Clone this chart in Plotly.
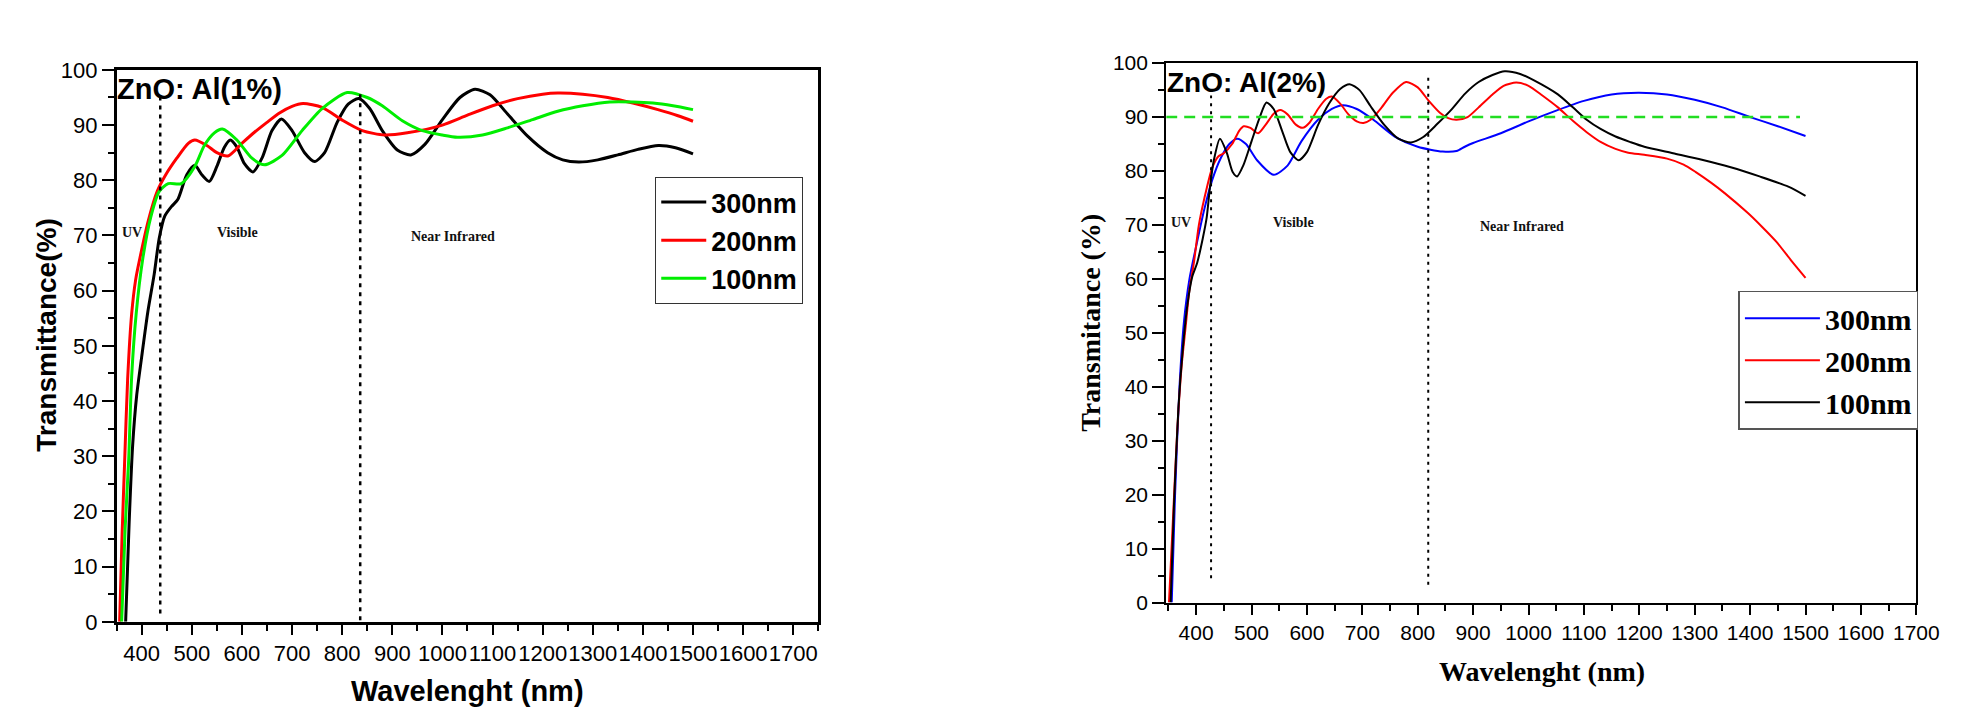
import plotly.graph_objects as go

W, H = 1966, 712

# ---------------- Left panel: ZnO:Al(1%) ----------------
l_300_x = [368, 375, 382, 390, 400, 412, 425, 435, 446, 460, 472, 490, 506, 520, 535, 550, 565, 577, 590, 605, 622,
           640, 660, 679, 700, 725, 745, 765, 790, 812, 833, 855, 880, 910, 937, 965, 1000, 1035, 1065, 1095, 1130,
           1170, 1210, 1240, 1272, 1310, 1350, 1390, 1431, 1465, 1500]
l_300_y = [0, 18, 32, 41, 48, 56, 63, 69.5, 73.5, 75.3, 76.5, 81, 82.7, 81, 79.8, 82.5, 86, 87.3, 86, 83, 81.5,
           84, 89, 91.1, 89, 85, 83.4, 85, 90.5, 93.8, 94.8, 93, 89, 85.5, 84.6, 86.5, 91, 95, 96.5, 95.5, 92,
           88, 85, 83.7, 83.3, 83.7, 84.6, 85.6, 86.3, 85.9, 84.8]

l_200_x = [356, 361, 366, 372, 380, 388, 396, 413, 431, 448, 470, 493, 506, 530, 550, 572, 600, 625, 650, 675, 700,
           722, 760, 800, 840, 885, 930, 1000, 1050, 1100, 1150, 1200, 1230, 1280, 1330, 1380, 1430, 1470, 1500]
l_200_y = [0, 16, 29, 44, 55.8, 62, 65.7, 72.6, 78, 81, 84, 86.7, 87.3, 86.3, 85, 84.4, 86.7, 88.7, 90.5, 92.2, 93.4,
           93.9, 93.2, 90.9, 89, 88.2, 88.6, 90, 91.8, 93.5, 94.8, 95.6, 95.8, 95.6, 95, 94, 92.8, 91.7, 90.7]

l_100_x = [360, 367, 374, 380, 389, 402, 418, 435, 453, 479, 506, 525, 545, 561, 590, 620, 645, 680, 720, 760, 810,
           850, 880, 920, 960, 1000, 1030, 1080, 1130, 1180, 1230, 1280, 1334, 1380, 1420, 1460, 1500]
l_100_y = [0, 17, 29.2, 44.4, 55.8, 65.7, 73.3, 78, 79.4, 79.4, 82.5, 86.3, 88.6, 89.3, 87.3, 84, 82.8, 84.5, 89, 93,
           95.9, 95, 93.5, 90.8, 89, 88.2, 87.8, 88.2, 89.5, 91, 92.5, 93.5, 94.2, 94.2, 94, 93.5, 92.8]

l_bounds = [437, 836]            # UV|Visible and Visible|NIR borders (nm)
l_bound_top = [95.4, 95.8]
l_bound_bottom = [1.5, 0.3]

# ---------------- Right panel: ZnO:Al(2%) ----------------
r_300_x = [356, 362, 370, 378, 388, 400, 415, 429, 445, 460, 474, 490, 510, 540, 565, 590, 620, 645, 665, 690, 720,
           760, 800, 845, 870, 885, 900, 950, 1000, 1050, 1100, 1150, 1198, 1250, 1300, 1350, 1400, 1450, 1500]
r_300_y = [0, 20, 40, 52, 60, 66, 73, 78.3, 82.5, 85, 86, 85, 82, 79.3, 81, 85.5, 89.5, 91.5, 92.2, 91.5, 89.5,
           86.3, 84.5, 83.6, 83.7, 84.5, 85.2, 87, 89.2, 91.2, 93, 94.2, 94.5, 94.2, 93.2, 91.8, 90, 88.3, 86.5]

r_200_x = [351, 358, 366, 374, 381, 388, 396, 405, 415, 429, 440, 450, 465, 478, 486, 498, 512, 525, 540, 552, 565,
           580, 592, 605, 620, 635, 645, 660, 675, 690, 702, 715, 735, 755, 779, 800, 820, 840, 855, 870, 890, 910,
           935, 955, 978, 1000, 1025, 1053, 1080, 1105, 1130, 1157, 1180, 1209, 1250, 1280, 1302, 1330, 1354, 1396,
           1420, 1448, 1475, 1500]
r_200_y = [0, 15, 32, 44, 51, 58, 63, 70, 75, 80.6, 82.7, 83.3, 85, 87.5, 88.3, 88, 87, 88.5, 90.6, 91.3, 90.5,
           88.6, 88, 89, 91.5, 93.4, 93.8, 92.5, 90.5, 89.2, 88.9, 89.5, 91.8, 94.5, 96.5, 95.5, 93, 90.8, 89.8, 89.5,
           90, 91.8, 94.2, 95.8, 96.4, 95.8, 94, 91.8, 89.3, 87.2, 85.4, 84.1, 83.4, 83, 82.3, 81.2, 79.8, 77.8,
           75.9, 72.2, 69.8, 66.8, 63.3, 60.2]

r_100_x = [354, 360, 368, 376, 384, 393, 402, 412, 419, 425, 432, 443, 455, 466, 474, 485, 500, 515, 527, 540, 555,
           570, 585, 600, 620, 640, 660, 677, 695, 715, 740, 765, 788, 810, 835, 860, 886, 910, 935, 957, 985, 1010,
           1053, 1080, 1105, 1130, 1157, 1183, 1209, 1261, 1313, 1365, 1417, 1469, 1500]
r_100_y = [0, 18, 36, 47, 55, 60.4, 63, 67.5, 71.3, 77, 82, 86, 83.5, 79.8, 79, 81, 85.5, 90, 92.7, 91.5, 87.5,
           83.5, 82, 83.5, 88.5, 92.5, 95.2, 96.1, 95, 92, 88.5, 86, 85.3, 86.3, 88.7, 91.3, 94.4, 96.5, 97.8, 98.5,
           98, 96.8, 94.2, 91.8, 89.5, 87.8, 86.4, 85.4, 84.5, 83.3, 82.1, 80.7, 79, 77.1, 75.4]

r_bounds = [427, 819]
r_bound_top = [94, 98]
r_bound_bottom = [4.5, 3.3]
r_ref_level = 90
r_ref_span = [346, 1490]

region_labels = ["UV", "Visible", "Near Infrared"]
l_label_x = [381, 591, 1021]
l_label_y = [70.6, 70.6, 69.9]
r_label_x = [373, 575, 989]
r_label_y = [70.5, 70.5, 69.8]

tick_vals = list(range(400, 1800, 100))
legend_names = ["300nm", "200nm", "100nm"]

# ---------------- geometry (pixels) ----------------
def px(x):
    return x / W

def py(y):
    return 1 - y / H

L = dict(x0=118, x1=828, y0=60, y1=632)
R = dict(x0=1180, x1=1939, y0=53, y1=612)

fig = go.Figure()

SANS = "Liberation Sans, Arial, sans-serif"
SERIF = "Liberation Serif, Times New Roman, serif"

left_cols = ["#000000", "#ff0000", "#00ee00"]
for xs, ys, nm, c in zip([l_300_x, l_200_x, l_100_x], [l_300_y, l_200_y, l_100_y], legend_names, left_cols):
    fig.add_trace(go.Scatter(x=xs, y=ys, mode="lines", name=nm,
                             line=dict(color=c, width=3, shape="spline", smoothing=0.7),
                             xaxis="x", yaxis="y", legend="legend"))

right_cols = ["#0000ff", "#ff0000", "#000000"]
for xs, ys, nm, c in zip([r_300_x, r_200_x, r_100_x], [r_300_y, r_200_y, r_100_y], legend_names, right_cols):
    fig.add_trace(go.Scatter(x=xs, y=ys, mode="lines", name=nm,
                             line=dict(color=c, width=2, shape="spline", smoothing=0.7),
                             xaxis="x2", yaxis="y2", legend="legend2"))

def xax(dom, rng, lw, fs):
    return dict(domain=dom, range=rng, tickmode="array", tickvals=tick_vals, ticks="outside", ticklen=10,
                tickwidth=2, tickcolor="black", showline=True, linewidth=lw, linecolor="black", mirror=True,
                showgrid=False, zeroline=False, tickangle=0,
                tickfont=dict(family=SANS, size=fs, color="black"),
                minor=dict(dtick=50, tick0=350, ticks="outside", ticklen=6, tickwidth=2, tickcolor="black",
                           showgrid=False))

def yax(dom, lw, fs):
    return dict(domain=dom, range=[0, 100], dtick=10, ticks="outside", ticklen=12, tickwidth=2,
                tickcolor="black", showline=True, linewidth=lw, linecolor="black", mirror=True,
                showgrid=False, zeroline=False, tickfont=dict(family=SANS, size=fs, color="black"),
                minor=dict(dtick=5, ticks="outside", ticklen=6, tickwidth=2, tickcolor="black", showgrid=False))

fig.update_layout(
    width=W, height=H, margin=dict(l=0, r=0, t=0, b=0), paper_bgcolor="white", plot_bgcolor="white",
    xaxis=dict(**xax([px(L["x0"]), px(L["x1"])], [350, 1750], 2.5, 22), anchor="y"),
    yaxis=dict(**yax([py(L["y1"]), py(L["y0"])], 2.5, 22), anchor="x"),
    xaxis2=dict(**xax([px(R["x0"]), px(R["x1"])], [346, 1700], 2, 21), anchor="y2"),
    yaxis2=dict(**yax([py(R["y1"]), py(R["y0"])], 2, 21), anchor="x2"),
    legend=dict(x=px(663), y=py(171), xanchor="left", yanchor="top", bgcolor="white", bordercolor="#333",
                borderwidth=1, font=dict(family=SANS, size=27, color="black", weight="bold"), itemwidth=45,
                tracegroupgap=0),
    legend2=dict(x=px(1759), y=py(289), xanchor="left", yanchor="top", bgcolor="white", bordercolor="#555",
                 borderwidth=1.5, font=dict(family=SERIF, size=30, color="black", weight="bold"), itemwidth=75,
                 tracegroupgap=0),
    showlegend=True,
)

# boundary lines
for xb, yt, yb in zip(l_bounds, l_bound_top, l_bound_bottom):
    fig.add_shape(type="line", xref="x", yref="y", x0=xb, x1=xb, y0=yb, y1=yt,
                  line=dict(color="black", width=2.5, dash="4px,5px"))
for xb, yt, yb in zip(r_bounds, r_bound_top, r_bound_bottom):
    fig.add_shape(type="line", xref="x2", yref="y2", x0=xb, x1=xb, y0=yb, y1=yt,
                  line=dict(color="black", width=2, dash="3px,5px"))
fig.add_shape(type="line", xref="x2", yref="y2", x0=r_ref_span[0], x1=r_ref_span[1], y0=r_ref_level,
              y1=r_ref_level, line=dict(color="#22dd22", width=2.5, dash="11px,7px"))

# region labels
for t, xv, yv in zip(region_labels, l_label_x, l_label_y):
    fig.add_annotation(x=xv, y=yv, xref="x", yref="y", text=t, showarrow=False, xanchor="center",
                       yanchor="middle", font=dict(family=SERIF, size=14, color="#111", weight="bold"))
for t, xv, yv in zip(region_labels, r_label_x, r_label_y):
    fig.add_annotation(x=xv, y=yv, xref="x2", yref="y2", text=t, showarrow=False, xanchor="center",
                       yanchor="middle", font=dict(family=SERIF, size=14, color="#111", weight="bold"))

# panel titles
fig.add_annotation(x=350, y=96.5, xref="x", yref="y", text="ZnO: Al(1%)", showarrow=False, xanchor="left",
                   yanchor="middle", xshift=-2, font=dict(family=SANS, size=29, color="black", weight="bold"))
fig.add_annotation(x=346, y=96.4, xref="x2", yref="y2", text="ZnO: Al(2%)", showarrow=False, xanchor="left",
                   yanchor="middle", xshift=-1, font=dict(family=SANS, size=28, color="black", weight="bold"))

# axis titles
fig.add_annotation(x=px(473), y=py(704), xref="paper", yref="paper", text="Wavelenght (nm)", showarrow=False,
                   xanchor="center", yanchor="middle",
                   font=dict(family=SANS, size=29, color="black", weight="bold"))
fig.add_annotation(x=px(47), y=py(335), xref="paper", yref="paper", text="Transmittance(%)", showarrow=False,
                   xanchor="center", yanchor="middle", textangle=-90,
                   font=dict(family=SANS, size=28, color="black", weight="bold"))
fig.add_annotation(x=px(1560), y=py(683), xref="paper", yref="paper", text="Wavelenght (nm)", showarrow=False,
                   xanchor="center", yanchor="middle",
                   font=dict(family=SERIF, size=28, color="black", weight="bold"))
fig.add_annotation(x=px(1104), y=py(322), xref="paper", yref="paper", text="Transmitance (%)", showarrow=False,
                   xanchor="center", yanchor="middle", textangle=-90,
                   font=dict(family=SERIF, size=28, color="black", weight="bold"))

fig.write_html("out.html", config={"displayModeBar": False},
               post_script="document.body.style.margin='0px';")
